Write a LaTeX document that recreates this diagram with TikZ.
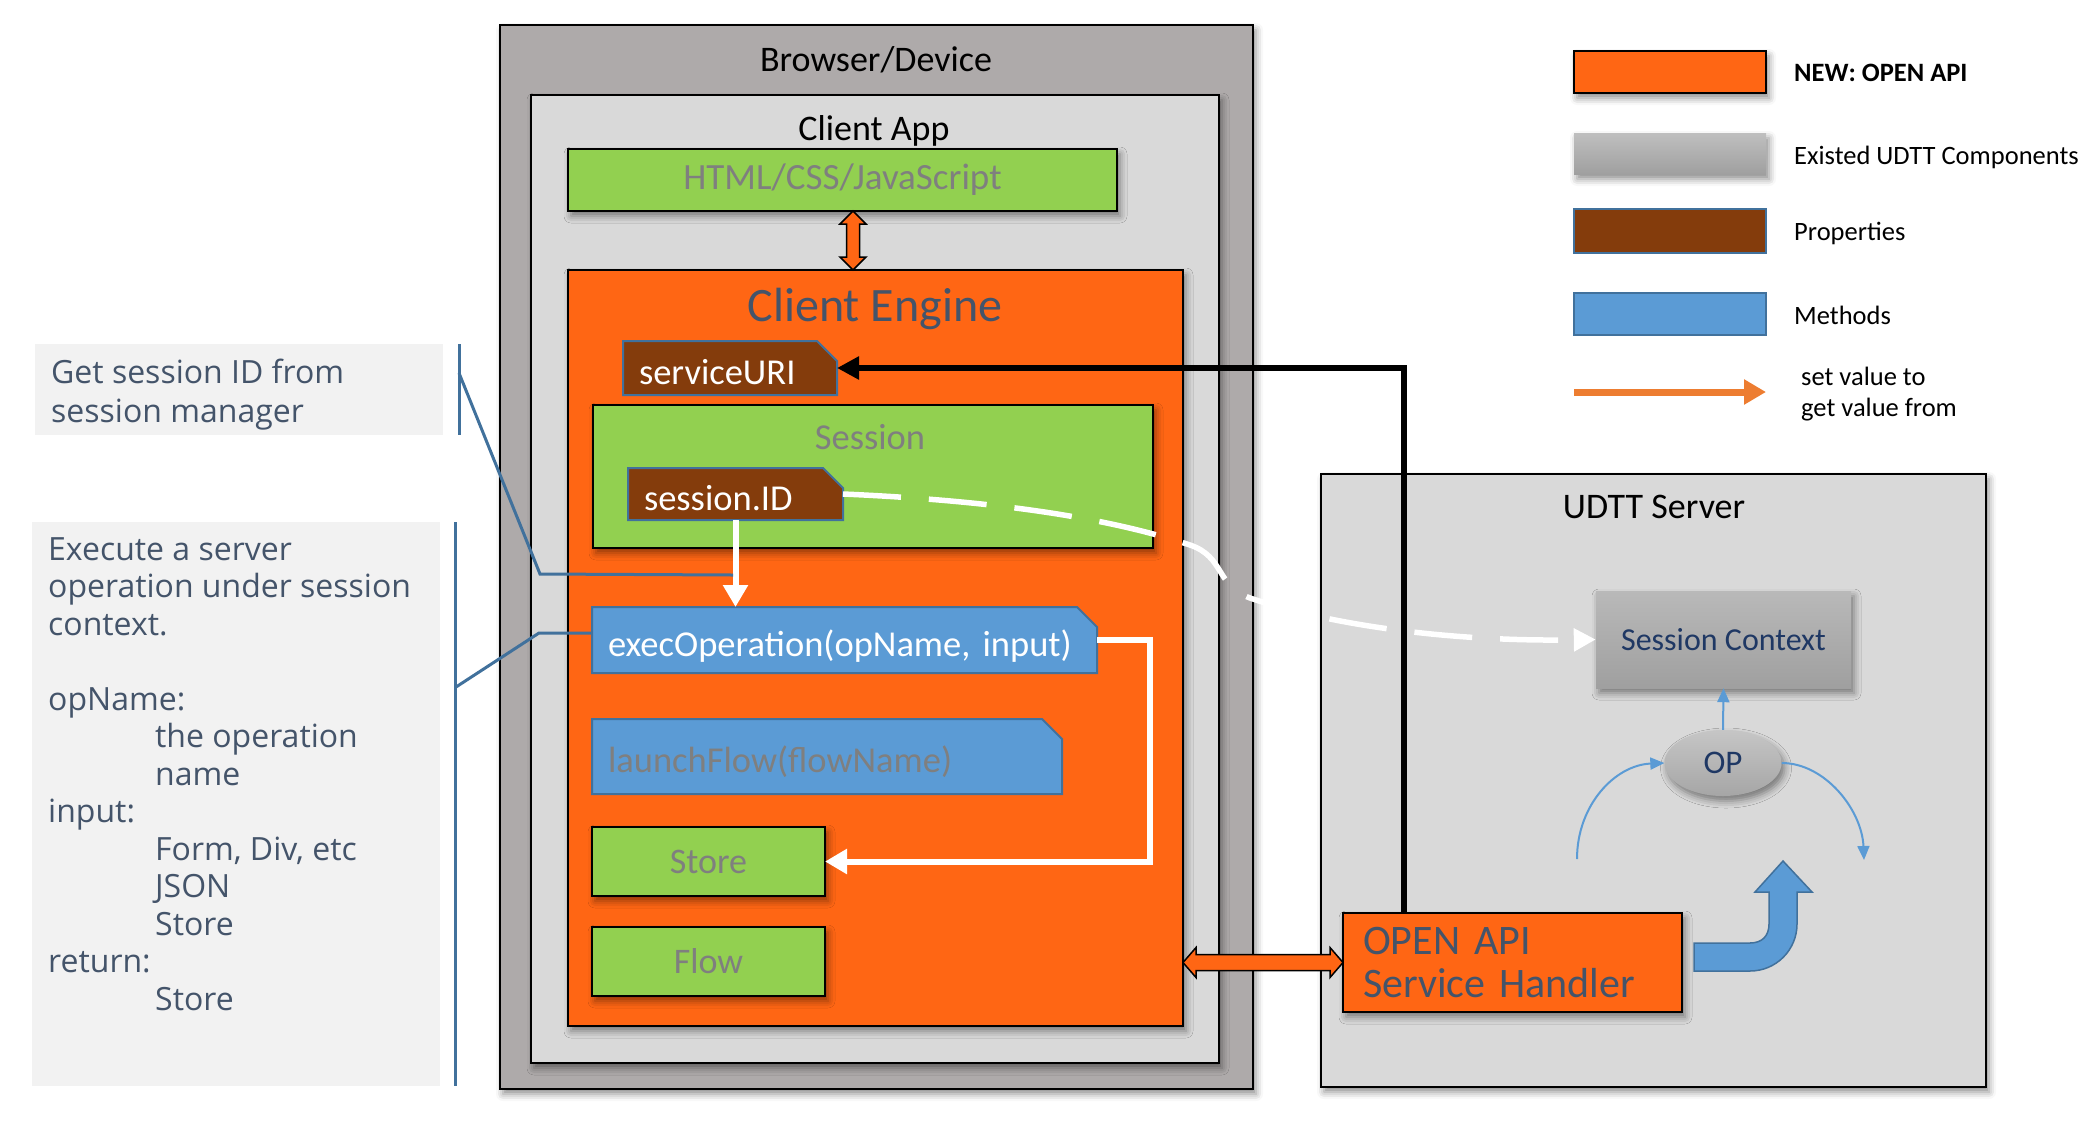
\documentclass[tikz,border=0pt]{standalone}
\usepackage{fontspec}
\setmainfont{Carlito}
\newfontfamily\lfont{Open Sans}
\usetikzlibrary{shapes.misc,shapes.geometric,arrows.meta,calc,shadows.blur}
\definecolor{cOrange}{HTML}{FF6614}
\definecolor{cGreen}{HTML}{92D050}
\definecolor{cBrown}{HTML}{843C0C}
\definecolor{cBlue}{HTML}{5B9BD5}
\definecolor{cBlueLine}{HTML}{41719C}
\definecolor{cGrayDark}{HTML}{AEAAAA}
\definecolor{cGrayLight}{HTML}{D9D9D9}
\definecolor{cPanel}{HTML}{F2F2F2}
\definecolor{cSlate}{HTML}{44546A}
\definecolor{cGrayText}{HTML}{7F7F7F}
\definecolor{cNavy}{HTML}{1F3864}
\definecolor{cLegArrow}{HTML}{ED7D31}
\newcommand\fsz[1]{\fontsize{#1}{#1}\selectfont}
\begin{document}
\begin{tikzpicture}[x=1pt,y=-1pt,
  shadowed/.style={blur shadow={shadow xshift=3pt, shadow yshift=-5pt, shadow blur radius=7pt, shadow opacity=45}},
  box/.style={rectangle, draw=black, line width=2pt, inner sep=0pt, outer sep=0pt},
  greenbox/.style={box, fill=cGreen, text=cGrayText, shadowed},
  snipbox/.style={chamfered rectangle, chamfered rectangle corners=north east,
     chamfered rectangle xsep=10pt, chamfered rectangle ysep=10pt,
     draw=cBlueLine, line width=2pt, inner ysep=0pt, inner xsep=6pt, outer sep=0pt, align=left,
     text height=32pt, text depth=0pt},
  prop/.style={snipbox, fill=cBrown, text=white},
  meth/.style={snipbox, fill=cBlue},
  title/.style={inner sep=0pt, font=\fsz{36}, text=black},
  legtext/.style={anchor=west, inner sep=0pt, font=\fsz{26.5}, text=black},
  panel/.style={rectangle, fill=cPanel, inner sep=0pt, outer sep=0pt},
  panelline/.style={draw=cBlueLine, line width=3pt},
  note/.style={draw=cBlueLine, line width=3pt},
  fat/.style={fill=cOrange, draw=black, line width=1.5pt, line join=miter},
  blk/.style={draw=black, line width=6pt, -{Triangle[length=22pt,width=22pt]}},
  wht/.style={draw=white, line width=6pt, -{Triangle[length=22pt,width=24pt]}},
  whtdash/.style={draw=white, line width=5.5pt, dash pattern=on 58pt off 28pt, -{Triangle[length=22pt,width=22pt]}},
  thinb/.style={draw=cBlue, line width=2pt, -{Triangle[length=14pt,width=12pt]}},
]
\useasboundingbox (0,0) rectangle (2092,1128);

% ---------- left notes ----------
\node[panel, minimum width=408pt, minimum height=91pt] (tb1) at (239,389.5) {};
\node[anchor=north west, inner sep=0pt, align=left, text=cSlate,
      font=\lfont\fontsize{32}{39}\selectfont] (tb1text) at (51,359) {Get session ID from\\session manager};
\draw[panelline] ($(tb1.north east)+(16,0)$) coordinate (tb1a) -- ($(tb1.south east)+(16,0)$) coordinate (tb1b);

\node[panel, minimum width=408pt, minimum height=564pt] (tb2) at (236,804) {};
\node[anchor=north west, inner sep=0pt, align=left, text=cSlate,
      font=\lfont\fontsize{32}{37.5}\selectfont] (tb2text) at (48,537)
 {Execute a server\\operation under session\\context.\\[37.5pt]opName:\\\hspace*{107pt}the operation\\\hspace*{107pt}name\\input:\\\hspace*{107pt}Form, Div, etc\\\hspace*{107pt}JSON\\\hspace*{107pt}Store\\return:\\\hspace*{107pt}Store};
\draw[panelline] ($(tb2.north east)+(15,0)$) coordinate (tb2a) -- ($(tb2.south east)+(15,0)$) coordinate (tb2b);

% ---------- browser / client ----------
\node[box, fill=cGrayDark, minimum width=753pt, minimum height=1064pt, shadowed] (browser) at (876.5,557) {};
\node[title] (browsertitle) at (876,60) {Browser/Device};
\node[box, fill=cGrayLight, minimum width=688pt, minimum height=968pt, shadowed] (clientapp) at (875,579) {};
\node[title] (clientapptitle) at (874,131) {Client App};
\node[greenbox, minimum width=549pt, minimum height=62pt, font=\fsz{37}] (html) at (842.5,180) {HTML/CSS/JavaScript};
\node[box, fill=cOrange, minimum width=615pt, minimum height=756pt, shadowed] (ce) at (875.5,648) {};
\node[inner sep=0pt, font=\fsz{48}, text=cSlate] (cetitle) at (875,309) {Client Engine};

\node[prop, minimum width=194pt, minimum height=54pt, text width=182pt, font=\fsz{36.5}] (suri) at (730,368) {serviceURI};
\node[greenbox, minimum width=560pt, minimum height=143pt] (session) at (873,476.5) {};
\node[inner sep=0pt, font=\fsz{36.5}, text=cGrayText] (sessiontitle) at (870,437) {Session};
\node[prop, minimum width=195pt, minimum height=48pt, text width=183pt, font=\fsz{36.5}] (sid) at (735.5,494) {session.ID};
\node[meth, minimum width=485pt, minimum height=66pt, text width=473pt, text=white, font=\fsz{36.5}] (exec) at (844.5,640) {execOperation(opName, input)};
\node[meth, minimum width=450pt, minimum height=75pt, text width=438pt, text=cGrayText, font=\fsz{36.5}] (launch) at (827,756.5) {launchFlow(flowName)};
\node[greenbox, minimum width=233pt, minimum height=69pt, font=\fsz{36}] (store) at (708.5,861.5) {Store};
\node[greenbox, minimum width=233pt, minimum height=69pt, font=\fsz{36}] (flow) at (708.5,961.5) {Flow};

% ---------- server ----------
\node[box, fill=cGrayLight, minimum width=665pt, minimum height=613pt, shadowed] (udtt) at (1653.5,780.5) {};
\node[title] (udtttitle) at (1654,507) {UDTT Server};
\node[rectangle, inner sep=0pt, minimum width=255pt, minimum height=97pt, top color=gray!55, bottom color=gray!75,
      text=cNavy, font=\fsz{32}, shadowed] (sc) at (1723.5,639.5) {Session Context};
\node[ellipse, inner sep=0pt, minimum width=117pt, minimum height=66pt, top color=gray!45, bottom color=gray!70,
      text=cNavy, font=\fsz{33}, shadowed] (op) at (1723,763) {OP};
\node[box, fill=cOrange, minimum width=339pt, minimum height=99pt, text width=299pt, align=left, inner xsep=20pt,
      text=cSlate, font=\fontsize{42}{43}\selectfont, shadowed] (oa) at (1512.5,962.5) {OPEN API\\Service Handler};

% ---------- legend ----------
\node[box, fill=cOrange, minimum width=192pt, minimum height=42pt, shadowed] (legnew) at (1670,72) {};
\node[legtext, font=\fsz{26.5}\bfseries] (legnewt) at (1794,73) {NEW: OPEN API};
\node[rectangle, inner sep=0pt, minimum width=192pt, minimum height=41pt, top color=gray!50, bottom color=gray!75, shadowed] (legold) at (1670,153.5) {};
\node[legtext] (legoldt) at (1794,157) {Existed UDTT Components};
\node[rectangle, fill=cBrown, draw=cBlueLine, line width=2pt, inner sep=0pt, minimum width=192pt, minimum height=44pt] (legprop) at (1670,231) {};
\node[legtext] (legpropt) at (1794,233) {Properties};
\node[rectangle, fill=cBlue, draw=cBlueLine, line width=2pt, inner sep=0pt, minimum width=192pt, minimum height=42pt] (legmeth) at (1670,314) {};
\node[legtext] (legmetht) at (1794,315) {Methods};
\coordinate (legA) at (1574,392);
\coordinate (legB) at (1766,392);
\draw[draw=cLegArrow, line width=7pt, -{Triangle[length=22pt,width=24pt]}] (legA) -- (legB);
\node[anchor=west, inner sep=0pt, align=left, font=\fontsize{26.5}{31}\selectfont] (legarrt) at (1801,394) {set value to\\get value from};

% ---------- fat double arrows ----------
\coordinate (vt) at ($(html.south)+(10.5,0)$);
\coordinate (vb) at (vt |- ce.north);
\draw[fat] (vt) -- ++(13,13) -- ++(-6.5,0) -- ($(vb)+(6.5,-13)$) -- ++(6.5,0) -- (vb)
  -- ++(-13,-13) -- ++(6.5,0) -- ($(vt)+(-6.5,13)$) -- ++(-6.5,0) -- cycle;
\coordinate (hl) at (ce.east |- oa.west);
\draw[fat] (hl) -- ++(13,-15) -- ++(0,7) -- ($(oa.west)+(-13,-8)$) -- ++(0,-7) -- (oa.west)
  -- ++(-13,15) -- ++(0,-7) -- ($(hl)+(13,8)$) -- ++(0,7) -- cycle;

% ---------- blue bent arrow ----------
\begin{scope}[shift={(oa.east)}]
\draw[fill=cBlue, draw=cBlueLine, line width=1.5pt] (12,-19.5) -- (68,-19.5) .. controls (80,-19.5) and (87,-26.5) .. (87,-38.5)
  -- (87,-70.5) -- (73,-70.5) -- (101,-101.5) -- (130,-70.5) -- (115,-70.5) -- (115,-38.5)
  .. controls (115,-12.5) and (94,8.5) .. (68,8.5) -- (12,8.5) -- cycle;
\end{scope}

% ---------- thin blue arrows around OP ----------
\coordinate (arcL) at (1577,859);
\coordinate (arcR) at (1864,860);
\draw[thinb] (arcL) .. controls (1577,805) and (1615,765) .. (op.west);
\draw[thinb] (op.east) .. controls (1825,763) and (1862,810) .. (arcR);
\draw[thinb] (op.north) -- (sc.south);

% ---------- connectors ----------
\draw[whtdash] (sid.east) .. controls (980,500) and (1100,515) .. (1190,545)
  .. controls (1225,557) and (1215,585) .. (1250,598)
  .. controls (1330,625) and (1450,642) .. (sc.west);
\coordinate (blkx) at (1404,368);
\draw[blk] (oa.north -| blkx) -- (blkx) -- (suri.east);
\draw[wht] (sid.south) -- (sid.south |- exec.north);
\draw[wht] (exec.east) -- ++(53,0) |- (store.east);

\coordinate (l1s) at (459,373);
\coordinate (l1e) at (733,575);
\draw[note] (l1s) -- (540,574) -- (l1e);
\coordinate (l2s) at (456,687);
\draw[note] (l2s) -- (539,633) -- ($(exec.west)+(0,-7)$);
\end{tikzpicture}
\end{document}
